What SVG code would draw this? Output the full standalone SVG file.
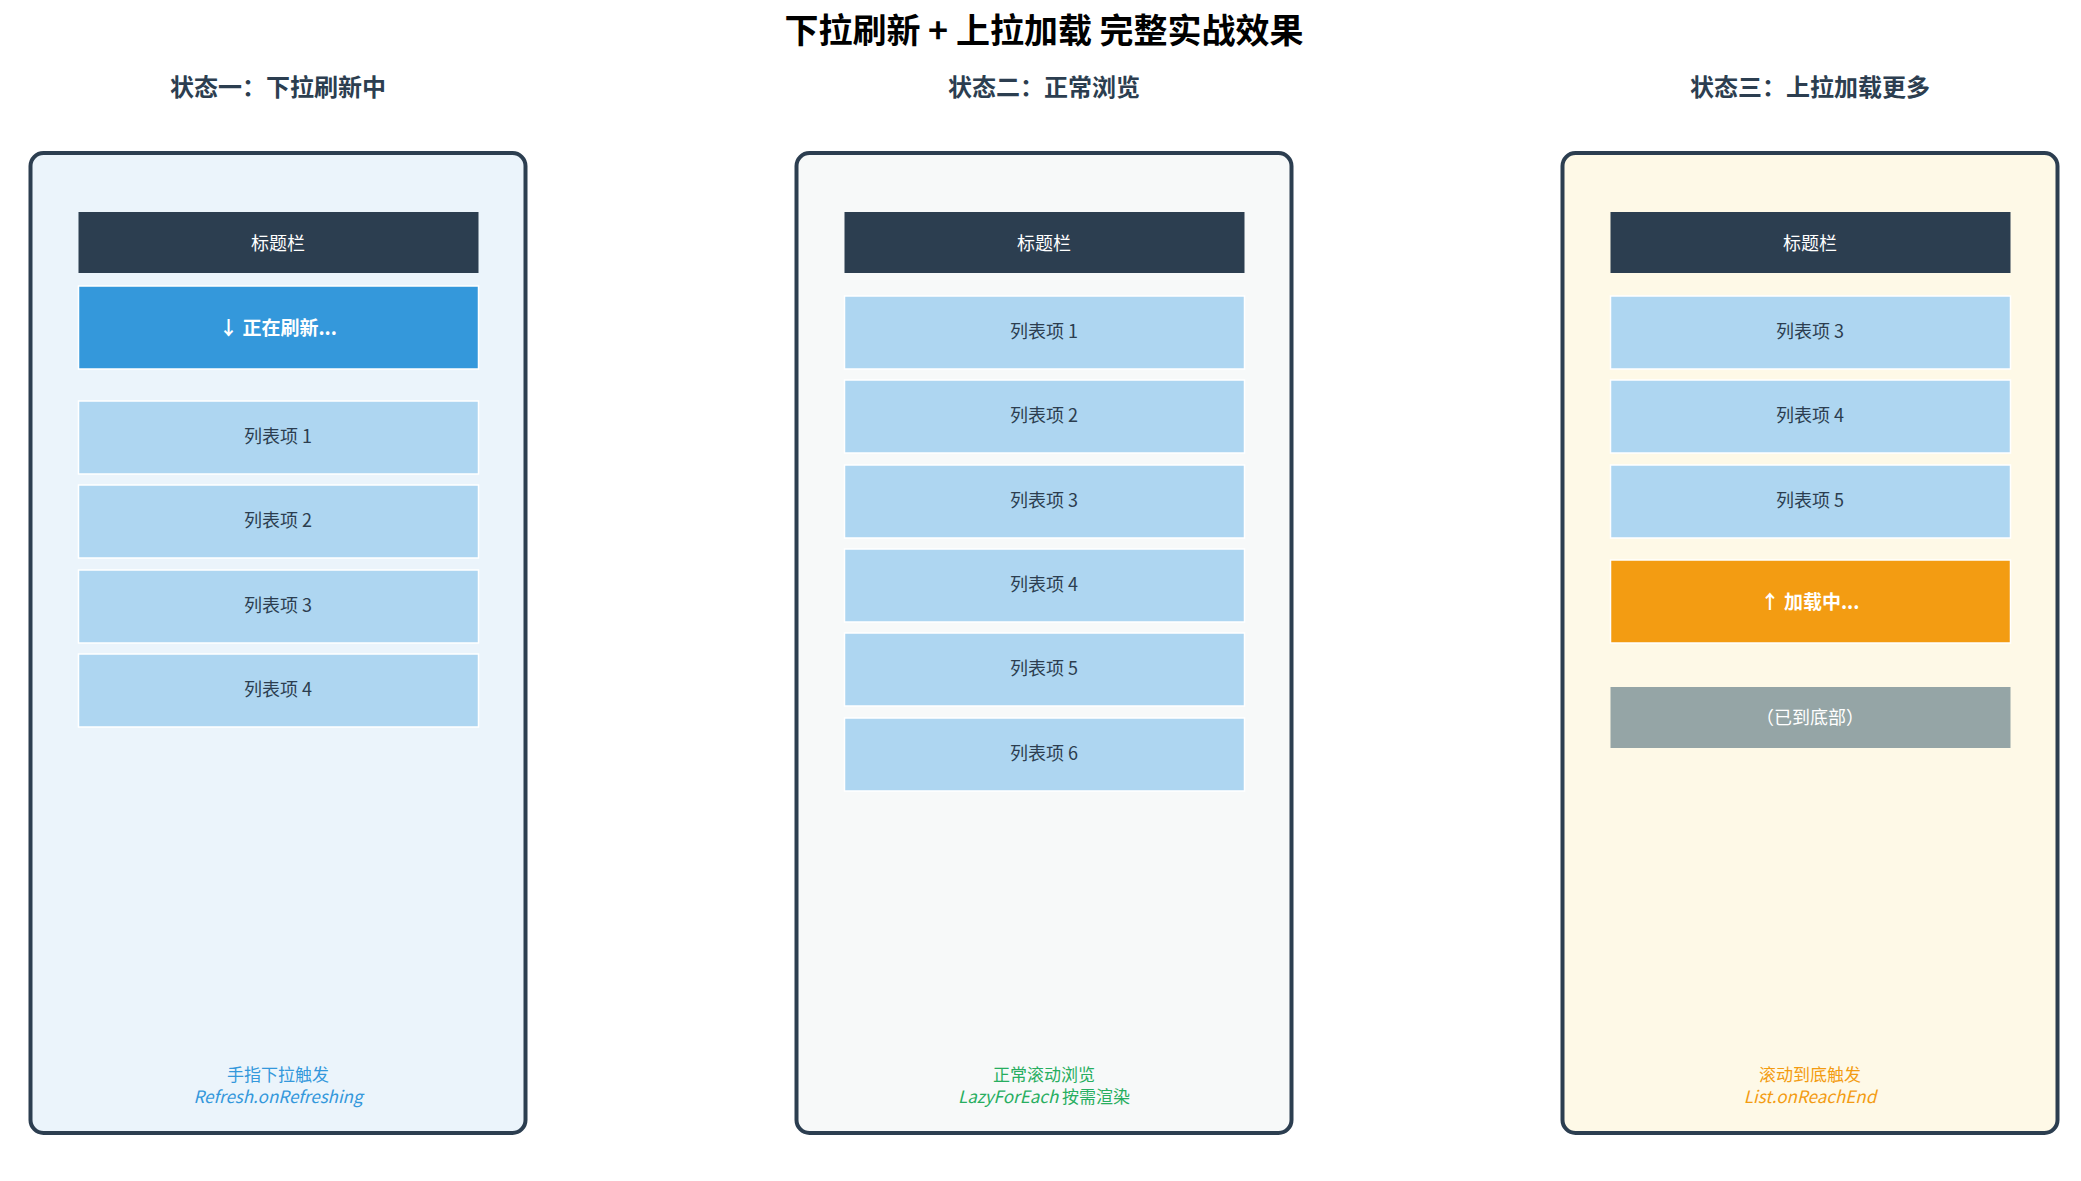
<svg xmlns="http://www.w3.org/2000/svg" width="2081" height="1181" viewBox="0 0 2081 1181">
<style>
text{font-family:"Noto Sans CJK SC","DejaVu Sans",sans-serif;text-anchor:middle;dominant-baseline:central}
.title{font-size:34px;font-weight:bold;fill:#000}
.sub{font-size:24px;font-weight:bold;fill:#2c3e50}
.panel{stroke:#2c3e50;stroke-width:4}
.bar{fill:#2c3e50}
.bar-t{fill:#fff;font-size:18px}
.item{fill:#aed6f1;stroke:#fff;stroke-width:1.5}
.item-t{fill:#2c3e50;font-size:18px}
.status-t{fill:#fff;font-size:19px;font-weight:bold}
.foot{font-size:17px}
</style>
<text class="title" x="1044" y="28">下拉刷新 + 上拉加载 完整实战效果</text>
<text class="sub" x="278" y="85">状态一：下拉刷新中</text>
<text class="sub" x="1044" y="85">状态二：正常浏览</text>
<text class="sub" x="1810" y="85">状态三：上拉加载更多</text>

<g id="panel1">
<rect class="panel" x="30.5" y="153" width="495" height="980" rx="13" fill="#ebf4fb"/>
<rect class="bar" x="78.5" y="212" width="400" height="61"/><text class="bar-t" x="278" y="242">标题栏</text>
<rect x="78.5" y="286" width="400" height="83" fill="#3498db" stroke="#fff" stroke-width="1.5"/><text class="status-t" x="278" y="326">↓ 正在刷新...</text>
<rect class="item" x="78.5" y="401" width="400" height="73"/><text class="item-t" x="278" y="435">列表项 1</text>
<rect class="item" x="78.5" y="485" width="400" height="73"/><text class="item-t" x="278" y="519">列表项 2</text>
<rect class="item" x="78.5" y="570" width="400" height="73"/><text class="item-t" x="278" y="604">列表项 3</text>
<rect class="item" x="78.5" y="654" width="400" height="73"/><text class="item-t" x="278" y="688">列表项 4</text>
<text class="foot" x="278" y="1073" fill="#3498db">手指下拉触发</text>
<text class="foot" x="278" y="1095" fill="#3498db" font-style="italic">Refresh.onRefreshing</text>
</g>

<g id="panel2">
<rect class="panel" x="796.5" y="153" width="495" height="980" rx="13" fill="#f7f9f9"/>
<rect class="bar" x="844.5" y="212" width="400" height="61"/><text class="bar-t" x="1044" y="242">标题栏</text>
<rect class="item" x="844.5" y="296" width="400" height="73"/><text class="item-t" x="1044" y="330">列表项 1</text>
<rect class="item" x="844.5" y="380" width="400" height="73"/><text class="item-t" x="1044" y="414">列表项 2</text>
<rect class="item" x="844.5" y="465" width="400" height="73"/><text class="item-t" x="1044" y="499">列表项 3</text>
<rect class="item" x="844.5" y="549" width="400" height="73"/><text class="item-t" x="1044" y="583">列表项 4</text>
<rect class="item" x="844.5" y="633" width="400" height="73"/><text class="item-t" x="1044" y="667">列表项 5</text>
<rect class="item" x="844.5" y="718" width="400" height="73"/><text class="item-t" x="1044" y="752">列表项 6</text>
<text class="foot" x="1044" y="1073" fill="#27ae60">正常滚动浏览</text>
<text class="foot" x="1044" y="1095" fill="#27ae60"><tspan font-style="italic">LazyForEach</tspan> 按需渲染</text>
</g>

<g id="panel3">
<rect class="panel" x="1562.5" y="153" width="495" height="980" rx="13" fill="#fef9e7"/>
<rect class="bar" x="1610.5" y="212" width="400" height="61"/><text class="bar-t" x="1810" y="242">标题栏</text>
<rect class="item" x="1610.5" y="296" width="400" height="73"/><text class="item-t" x="1810" y="330">列表项 3</text>
<rect class="item" x="1610.5" y="380" width="400" height="73"/><text class="item-t" x="1810" y="414">列表项 4</text>
<rect class="item" x="1610.5" y="465" width="400" height="73"/><text class="item-t" x="1810" y="499">列表项 5</text>
<rect x="1610.5" y="560" width="400" height="83" fill="#f39c12" stroke="#fff" stroke-width="1.5"/><text class="status-t" x="1810" y="600">↑ 加载中...</text>
<rect x="1610.5" y="687" width="400" height="61" fill="#95a5a6"/><text class="bar-t" x="1810" y="716">（已到底部）</text>
<text class="foot" x="1810" y="1073" fill="#f39c12">滚动到底触发</text>
<text class="foot" x="1810" y="1095" fill="#f39c12" font-style="italic">List.onReachEnd</text>
</g>
<g id="connectors"/>
</svg>
